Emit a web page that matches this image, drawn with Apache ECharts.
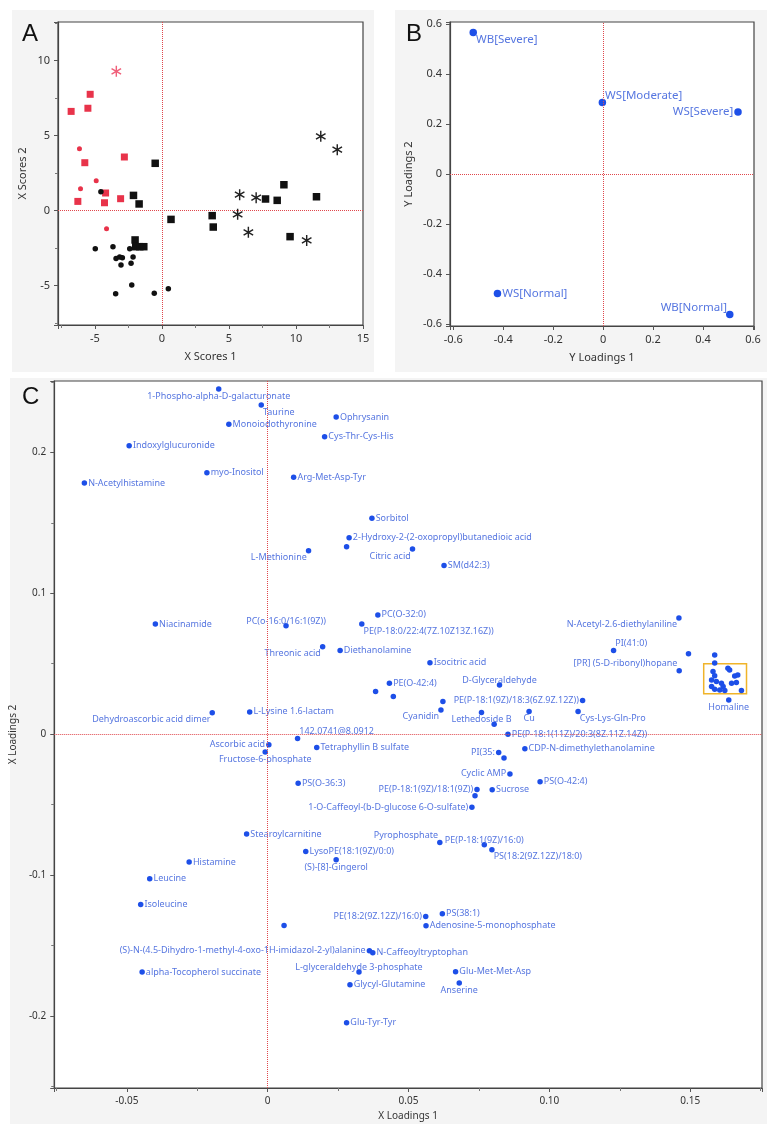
<!DOCTYPE html>
<html>
<head>
<meta charset="utf-8">
<script src="https://cdn.jsdelivr.net/npm/echarts@6/dist/echarts.min.js"></script>
<style>
  html, body { margin: 0; padding: 0; background: #fff; }
  #chart { width: 779px; height: 1138px; }
</style>
</head>
<body>
<div id="chart"></div>
<script>
// ---- panel A : X scores ----
const redSquares = [[-6.77, 6.62], [-5.35, 7.76], [-5.52, 6.83], [-5.75, 3.2], [-2.8, 3.58], [-4.2, 1.18], [-6.27, 0.62], [-4.28, 0.53], [-3.08, 0.8]]
const redCircles = [[-6.15, 4.13], [-4.9, 2.0], [-6.07, 1.47], [-4.13, -1.2]]
const redStars = [[-3.4, 9.29]]
const blackSquares = [[-0.5, 3.16], [-2.12, 1.02], [-1.7, 0.45], [0.68, -0.58], [-2.0, -1.95], [-1.95, -2.4], [-1.65, -2.4], [-1.35, -2.4],
  [3.75, -0.33], [3.83, -1.09], [7.73, 0.78], [8.6, 0.69], [9.1, 1.73], [9.56, -1.73], [11.53, 0.93]]
const blackCircles = [[-4.55, 1.27], [-4.97, -2.53], [-3.65, -2.4], [-3.42, -3.18], [-3.15, -3.09], [-2.95, -3.13], [-3.05, -3.62],
  [-2.4, -2.53], [-2.15, -3.09], [-2.3, -3.51], [-2.25, -4.95], [-3.45, -5.53], [-0.57, -5.51], [0.48, -5.2]]
const blackStars = [[11.85, 4.96], [13.08, 4.07], [5.8, 1.07], [7.03, 0.87], [5.65, -0.24], [6.45, -1.44], [10.8, -1.98]]

// ---- panel B : Y loadings ----
const yLoadNames = ['WB[Severe]', 'WS[Moderate]', 'WS[Severe]', 'WS[Normal]', 'WB[Normal]']
const yLoad1 = [-0.52, -0.003, 0.54, -0.423, 0.507]
const yLoad2 = [0.565, 0.285, 0.247, -0.478, -0.562]

// ---- panel C : X loadings ----
const xLoadNames = [
  '1-Phospho-alpha-D-galacturonate', 'Taurine', 'Monoiodothyronine', 'Ophrysanin', 'Cys-Thr-Cys-His',
  'Indoxylglucuronide', 'myo-Inositol', 'Arg-Met-Asp-Tyr', 'N-Acetylhistamine', 'Sorbitol',
  '2-Hydroxy-2-(2-oxopropyl)butanedioic acid', 'Citric acid', 'L-Methionine', 'SM(d42:3)', 'Niacinamide',
  'PC(o-16:0/16:1(9Z))', 'PC(O-32:0)', 'PE(P-18:0/22:4(7Z.10Z13Z.16Z))', 'N-Acetyl-2.6-diethylaniline', 'Threonic acid',
  'Diethanolamine', 'PE(O-42:4)', 'Dehydroascorbic acid dimer', 'L-Lysine 1.6-lactam', '142.0741@8.0912',
  'Ascorbic acid', 'Fructose-6-phosphate', 'Tetraphyllin B sulfate', 'PS(O-36:3)', 'Stearoylcarnitine',
  'LysoPE(18:1(9Z)/0:0)', '(S)-[8]-Gingerol', 'Histamine', 'Leucine', 'Isoleucine',
  '(S)-N-(4.5-Dihydro-1-methyl-4-oxo-1H-imidazol-2-yl)alanine', 'N-Caffeoyltryptophan', 'alpha-Tocopherol succinate', 'L-glyceraldehyde 3-phosphate', 'Glycyl-Glutamine',
  'Glu-Tyr-Tyr', 'PE(18:2(9Z.12Z)/16:0)', 'PS(38:1)', 'Adenosine-5-monophosphate', 'Glu-Met-Met-Asp',
  'Anserine', 'PI(41:0)', '[PR] (5-D-ribonyl)hopane', 'Homaline', 'Isocitric acid',
  'D-Glyceraldehyde', 'PE(P-18:1(9Z)/18:3(6Z.9Z.12Z))', 'Cyanidin', 'Lethedoside B', 'Cu',
  'Cys-Lys-Gln-Pro', 'PE(P-18:1(11Z)/20:3(8Z.11Z.14Z))', 'CDP-N-dimethylethanolamine', 'PI(35:', 'Cyclic AMP',
  'PS(O-42:4)', 'Sucrose', 'PE(P-18:1(9Z)/18:1(9Z))', '1-O-Caffeoyl-(b-D-glucose 6-O-sulfate)', 'Pyrophosphate',
  'PE(P-18:1(9Z)/16:0)', 'PS(18:2(9Z.12Z)/18:0)'
]
const xLoad1 = [
  -0.0174, -0.0023, -0.0138, 0.0243, 0.0202,
  -0.0492, -0.0216, 0.0092, -0.0651, 0.0370,
  0.0289, 0.0514, 0.0145, 0.0626, -0.0399,
  0.0065, 0.0391, 0.0334, 0.1460, 0.0195,
  0.0257, 0.0432, -0.0197, -0.0064, 0.0106,
  0.0004, -0.0009, 0.0174, 0.0108, -0.0075,
  0.0135, 0.0243, -0.0279, -0.0419, -0.0451,
  0.0361, 0.0373, -0.0446, 0.0324, 0.0292,
  0.0280, 0.0561, 0.0620, 0.0562, 0.0667,
  0.0680, 0.1228, 0.1461, 0.1637, 0.0576,
  0.0823, 0.1118, 0.0615, 0.0759, 0.0928,
  0.1102, 0.0853, 0.0913, 0.0820, 0.0860,
  0.0967, 0.0797, 0.0743, 0.0725, 0.0611,
  0.0769, 0.0796
]
const xLoad2 = [
  0.2449, 0.2335, 0.2199, 0.2250, 0.2111,
  0.2047, 0.1855, 0.1823, 0.1782, 0.1532,
  0.1394, 0.1314, 0.1302, 0.1196, 0.0782,
  0.0770, 0.0846, 0.0782, 0.0825, 0.0621,
  0.0593, 0.0362, 0.0151, 0.0158, -0.0031,
  -0.0076, -0.0126, -0.0095, -0.0348, -0.0709,
  -0.0833, -0.0891, -0.0908, -0.1026, -0.1208,
  -0.1537, -0.1551, -0.1688, -0.1688, -0.1778,
  -0.2048, -0.1294, -0.1275, -0.1360, -0.1686,
  -0.1766, 0.0593, 0.0449, 0.0243, 0.0506,
  0.0348, 0.0238, 0.0172, 0.0153, 0.0160,
  0.0160, 0.0000, -0.0104, -0.0130, -0.0282,
  -0.0338, -0.0395, -0.0393, -0.0518, -0.0769,
  -0.0785, -0.0821
]
// unlabelled loadings
const otherLoad1 = [0.0280, 0.0383, 0.0446, 0.0622, 0.0804, 0.0839, 0.0736, 0.0058, 0.1494, 0.1587, 0.1587]
const otherLoad2 = [0.1330, 0.0302, 0.0267, 0.0231, 0.0071, -0.0170, -0.0438, -0.1357, 0.0570, 0.0562, 0.0504]
// boxed cluster near Homaline
const clusterLoad1 = [0.1581, 0.1576, 0.1593, 0.1611, 0.1617, 0.1634, 0.1640, 0.1658, 0.1669, 0.1664, 0.1647, 0.1576, 0.1587, 0.1605, 0.1623, 0.1682, 0.1587]
const clusterLoad2 = [0.0444, 0.0385, 0.0373, 0.0362, 0.0338, 0.0468, 0.0456, 0.0413, 0.0420, 0.0366, 0.0362, 0.0338, 0.0319, 0.0314, 0.0309, 0.0309, 0.0415]

// label side for each point (default right)
const labelSide = {
  '1-Phospho-alpha-D-galacturonate': 'b', 'Taurine': 'rb', 'Citric acid': 'lb', 'L-Methionine': 'lb',
  'PC(o-16:0/16:1(9Z))': 't', 'PE(P-18:0/22:4(7Z.10Z13Z.16Z))': 'rb', 'N-Acetyl-2.6-diethylaniline': 'lb',
  'Threonic acid': 'lb', 'Dehydroascorbic acid dimer': 'lb', '142.0741@8.0912': 'rt', 'Ascorbic acid': 'l',
  'Fructose-6-phosphate': 'b', '(S)-[8]-Gingerol': 'b', '(S)-N-(4.5-Dihydro-1-methyl-4-oxo-1H-imidazol-2-yl)alanine': 'l',
  'L-glyceraldehyde 3-phosphate': 't', 'PE(18:2(9Z.12Z)/16:0)': 'l', 'Anserine': 'b', 'PI(41:0)': 'rt',
  '[PR] (5-D-ribonyl)hopane': 'lt', 'Homaline': 'b', 'D-Glyceraldehyde': 't', 'PE(P-18:1(9Z)/18:3(6Z.9Z.12Z))': 'l',
  'Cyanidin': 'lb', 'Lethedoside B': 'b', 'Cu': 'b', 'Cys-Lys-Gln-Pro': 'rb', 'PI(35:': 'l', 'Cyclic AMP': 'l',
  'PE(P-18:1(9Z)/18:1(9Z))': 'l', '1-O-Caffeoyl-(b-D-glucose 6-O-sulfate)': 'l', 'Pyrophosphate': 'lt',
  'PE(P-18:1(9Z)/16:0)': 't', 'PS(18:2(9Z.12Z)/18:0)': 'rb',
  'WB[Severe]': 'rb', 'WS[Moderate]': 'rt', 'WS[Severe]': 'l', 'WB[Normal]': 'lt'
}
const sides = {
  r: { position: 'right', distance: 1 },
  l: { position: 'left', distance: 1 },
  b: { position: 'bottom', distance: 0 },
  t: { position: 'top', distance: 0, offset: [0, 3] },
  rb: { position: 'right', distance: 0, offset: [-1, 7] },
  lb: { position: 'left', distance: 0, offset: [1, 7] },
  rt: { position: 'right', distance: 0, offset: [-1, -7] },
  lt: { position: 'left', distance: 0, offset: [1, -7] }
}

const RED = '#e8334a'
const BLACK = '#111'
const DOT = '#1d4fe8'
const LABEL = '#5676e0'
const FONT = 'Noto Sans'

function asterisk () {
  const w = 0.13
  const parts = [90, 30, 150].map(a => {
    const r = a * Math.PI / 180
    const dx = Math.cos(r) * 0.5, dy = Math.sin(r) * 0.5
    const nx = -Math.sin(r) * w / 2, ny = Math.cos(r) * w / 2
    const p = [[dx + nx, dy + ny], [dx - nx, dy - ny], [-dx - nx, -dy - ny], [-dx + nx, -dy + ny]]
    return 'M' + p.map(q => q[0].toFixed(3) + ' ' + q[1].toFixed(3)).join(' L') + ' Z'
  })
  return 'path://' + parts.join(' ')
}

function zeroLines () {
  return {
    silent: true,
    symbol: ['none', 'none'],
    label: { show: false },
    lineStyle: { color: '#e0474c', type: 'dotted', width: 1 },
    data: [{ xAxis: 0 }, { yAxis: 0 }]
  }
}

function labelled (names, xs, ys, fontSize) {
  return names.map((n, i) => {
    const s = sides[labelSide[n] || 'r']
    return {
      name: n,
      value: [xs[i], ys[i]],
      label: Object.assign({ show: true, formatter: '{b}', color: LABEL, fontSize: fontSize, fontFamily: FONT }, s)
    }
  })
}

function multipleOf (step) {
  return v => Math.abs(v / step - Math.round(v / step)) < 1e-6
}

function valueAxis (grid, min, max, name, gap, fmt, fontSize, nameSize, extra) {
  return Object.assign({
    type: 'value',
    gridIndex: grid,
    min: min,
    max: max,
    name: name,
    nameLocation: 'middle',
    nameGap: gap,
    nameTextStyle: { color: '#333', fontSize: nameSize, fontFamily: FONT },
    axisLine: { show: true, onZero: false, lineStyle: { color: '#444', width: 1.2 } },
    axisTick: { show: true, length: 4, lineStyle: { color: '#555' } },
    splitLine: { show: false },
    axisLabel: { color: '#333', fontSize: fontSize, fontFamily: FONT, margin: 8, formatter: fmt }
  }, extra || {})
}

const fmtA = v => multipleOf(5)(v) ? String(Math.round(v)) : ''
const fmtB = v => multipleOf(0.2)(v) ? (Math.abs(v) < 1e-9 ? '0' : v.toFixed(1)) : ''
const fmtCx = v => multipleOf(0.05)(v) ? (Math.abs(v) < 1e-9 ? '0' : v.toFixed(2)) : ''
const fmtCy = v => multipleOf(0.1)(v) ? (Math.abs(v) < 1e-9 ? '0' : v.toFixed(1)) : ''
const minor = { minorTick: { show: true, splitNumber: 2, length: 3, lineStyle: { color: '#777' } } }

const clusterPadX = [0.0028, 0.0018]
const clusterPadY = [0.0023, 0.0031]
const boxX = [Math.min(...clusterLoad1) - clusterPadX[0], Math.max(...clusterLoad1) + clusterPadX[1]]
const boxY = [Math.min(...clusterLoad2) - clusterPadY[0], Math.max(...clusterLoad2) + clusterPadY[1]]

const chart = echarts.init(document.getElementById('chart'))
chart.setOption({
  animation: false,
  backgroundColor: '#fff',
  textStyle: { fontFamily: FONT },
  graphic: [
    { type: 'rect', z: -10, shape: { x: 12, y: 10, width: 362, height: 362 }, style: { fill: '#f4f4f4' } },
    { type: 'rect', z: -10, shape: { x: 395, y: 10, width: 372, height: 362 }, style: { fill: '#f4f4f4' } },
    { type: 'rect', z: -10, shape: { x: 10, y: 378, width: 757, height: 746 }, style: { fill: '#f4f4f4' } },
    { type: 'text', z: 100, left: 22, top: 22, style: { text: 'A', fontSize: 24, fill: '#111', fontFamily: 'Liberation Sans' } },
    { type: 'text', z: 100, left: 406, top: 22, style: { text: 'B', fontSize: 24, fill: '#111', fontFamily: 'Liberation Sans' } },
    { type: 'text', z: 100, left: 22, top: 385, style: { text: 'C', fontSize: 24, fill: '#111', fontFamily: 'Liberation Sans' } }
  ],
  grid: [
    { left: 58, top: 22, width: 305, height: 303, show: true, backgroundColor: '#fff', borderColor: '#444', borderWidth: 1.2 },
    { left: 450, top: 22, width: 304, height: 304, show: true, backgroundColor: '#fff', borderColor: '#444', borderWidth: 1.2 },
    { left: 54, top: 381, width: 708, height: 707, show: true, backgroundColor: '#fff', borderColor: '#444', borderWidth: 1.2 }
  ],
  xAxis: [
    valueAxis(0, -7.75, 15, 'X Scores 1', 26, fmtA, 11, 11, Object.assign({ splitNumber: 4 }, minor)),
    valueAxis(1, -0.613, 0.604, 'Y Loadings 1', 26, fmtB, 11, 11, { splitNumber: 6 }),
    valueAxis(2, -0.0758, 0.1755, 'X Loadings 1', 20, fmtCx, 10, 10, Object.assign({ splitNumber: 5 }, minor))
  ],
  yAxis: [
    valueAxis(0, -7.62, 12.58, 'X Scores 2', 30, fmtA, 11, 11, Object.assign({ splitNumber: 4 }, minor)),
    valueAxis(1, -0.608, 0.607, 'Y Loadings 2', 36, fmtB, 11, 11, { splitNumber: 6 }),
    valueAxis(2, -0.2511, 0.2506, 'X Loadings 2', 28, fmtCy, 10, 10, Object.assign({ splitNumber: 5 }, minor))
  ],
  series: [
    { type: 'scatter', xAxisIndex: 0, yAxisIndex: 0, data: redSquares, symbol: 'rect', symbolSize: 7, itemStyle: { color: RED, opacity: 1 }, markLine: zeroLines() },
    { type: 'scatter', xAxisIndex: 0, yAxisIndex: 0, data: redCircles, symbol: 'circle', symbolSize: 5, itemStyle: { color: RED, opacity: 1 } },
    { type: 'scatter', xAxisIndex: 0, yAxisIndex: 0, data: redStars, symbol: asterisk(), symbolKeepAspect: true, symbolSize: 11, itemStyle: { color: '#f0607a', opacity: 1 } },
    { type: 'scatter', xAxisIndex: 0, yAxisIndex: 0, data: blackSquares, symbol: 'rect', symbolSize: 7.5, itemStyle: { color: BLACK, opacity: 1 } },
    { type: 'scatter', xAxisIndex: 0, yAxisIndex: 0, data: blackCircles, symbol: 'circle', symbolSize: 5.5, itemStyle: { color: BLACK, opacity: 1 } },
    { type: 'scatter', xAxisIndex: 0, yAxisIndex: 0, data: blackStars, symbol: asterisk(), symbolKeepAspect: true, symbolSize: 11, itemStyle: { color: '#222', opacity: 1 } },
    {
      type: 'scatter', xAxisIndex: 1, yAxisIndex: 1, symbolSize: 7.5,
      itemStyle: { color: DOT, opacity: 1 },
      data: labelled(yLoadNames, yLoad1, yLoad2, 11.5),
      markLine: zeroLines()
    },
    {
      type: 'scatter', xAxisIndex: 2, yAxisIndex: 2, symbolSize: 5.5,
      itemStyle: { color: DOT, opacity: 1 },
      data: otherLoad1.map((x, i) => [x, otherLoad2[i]]),
      markLine: zeroLines()
    },
    {
      type: 'scatter', xAxisIndex: 2, yAxisIndex: 2, symbolSize: 5.5,
      itemStyle: { color: DOT, opacity: 1 },
      data: clusterLoad1.map((x, i) => [x, clusterLoad2[i]]),
      markArea: {
        silent: true,
        itemStyle: { color: 'rgba(0,0,0,0)', borderColor: '#f0b42a', borderWidth: 1.5 },
        data: [[{ coord: [boxX[0], boxY[1]] }, { coord: [boxX[1], boxY[0]] }]]
      }
    },
    {
      type: 'scatter', xAxisIndex: 2, yAxisIndex: 2, symbolSize: 5.5,
      itemStyle: { color: DOT, opacity: 1 },
      data: labelled(xLoadNames, xLoad1, xLoad2, 9)
    }
  ]
})
window.addEventListener('resize', function () {
  chart.resize()
})
</script>
</body>
</html>
